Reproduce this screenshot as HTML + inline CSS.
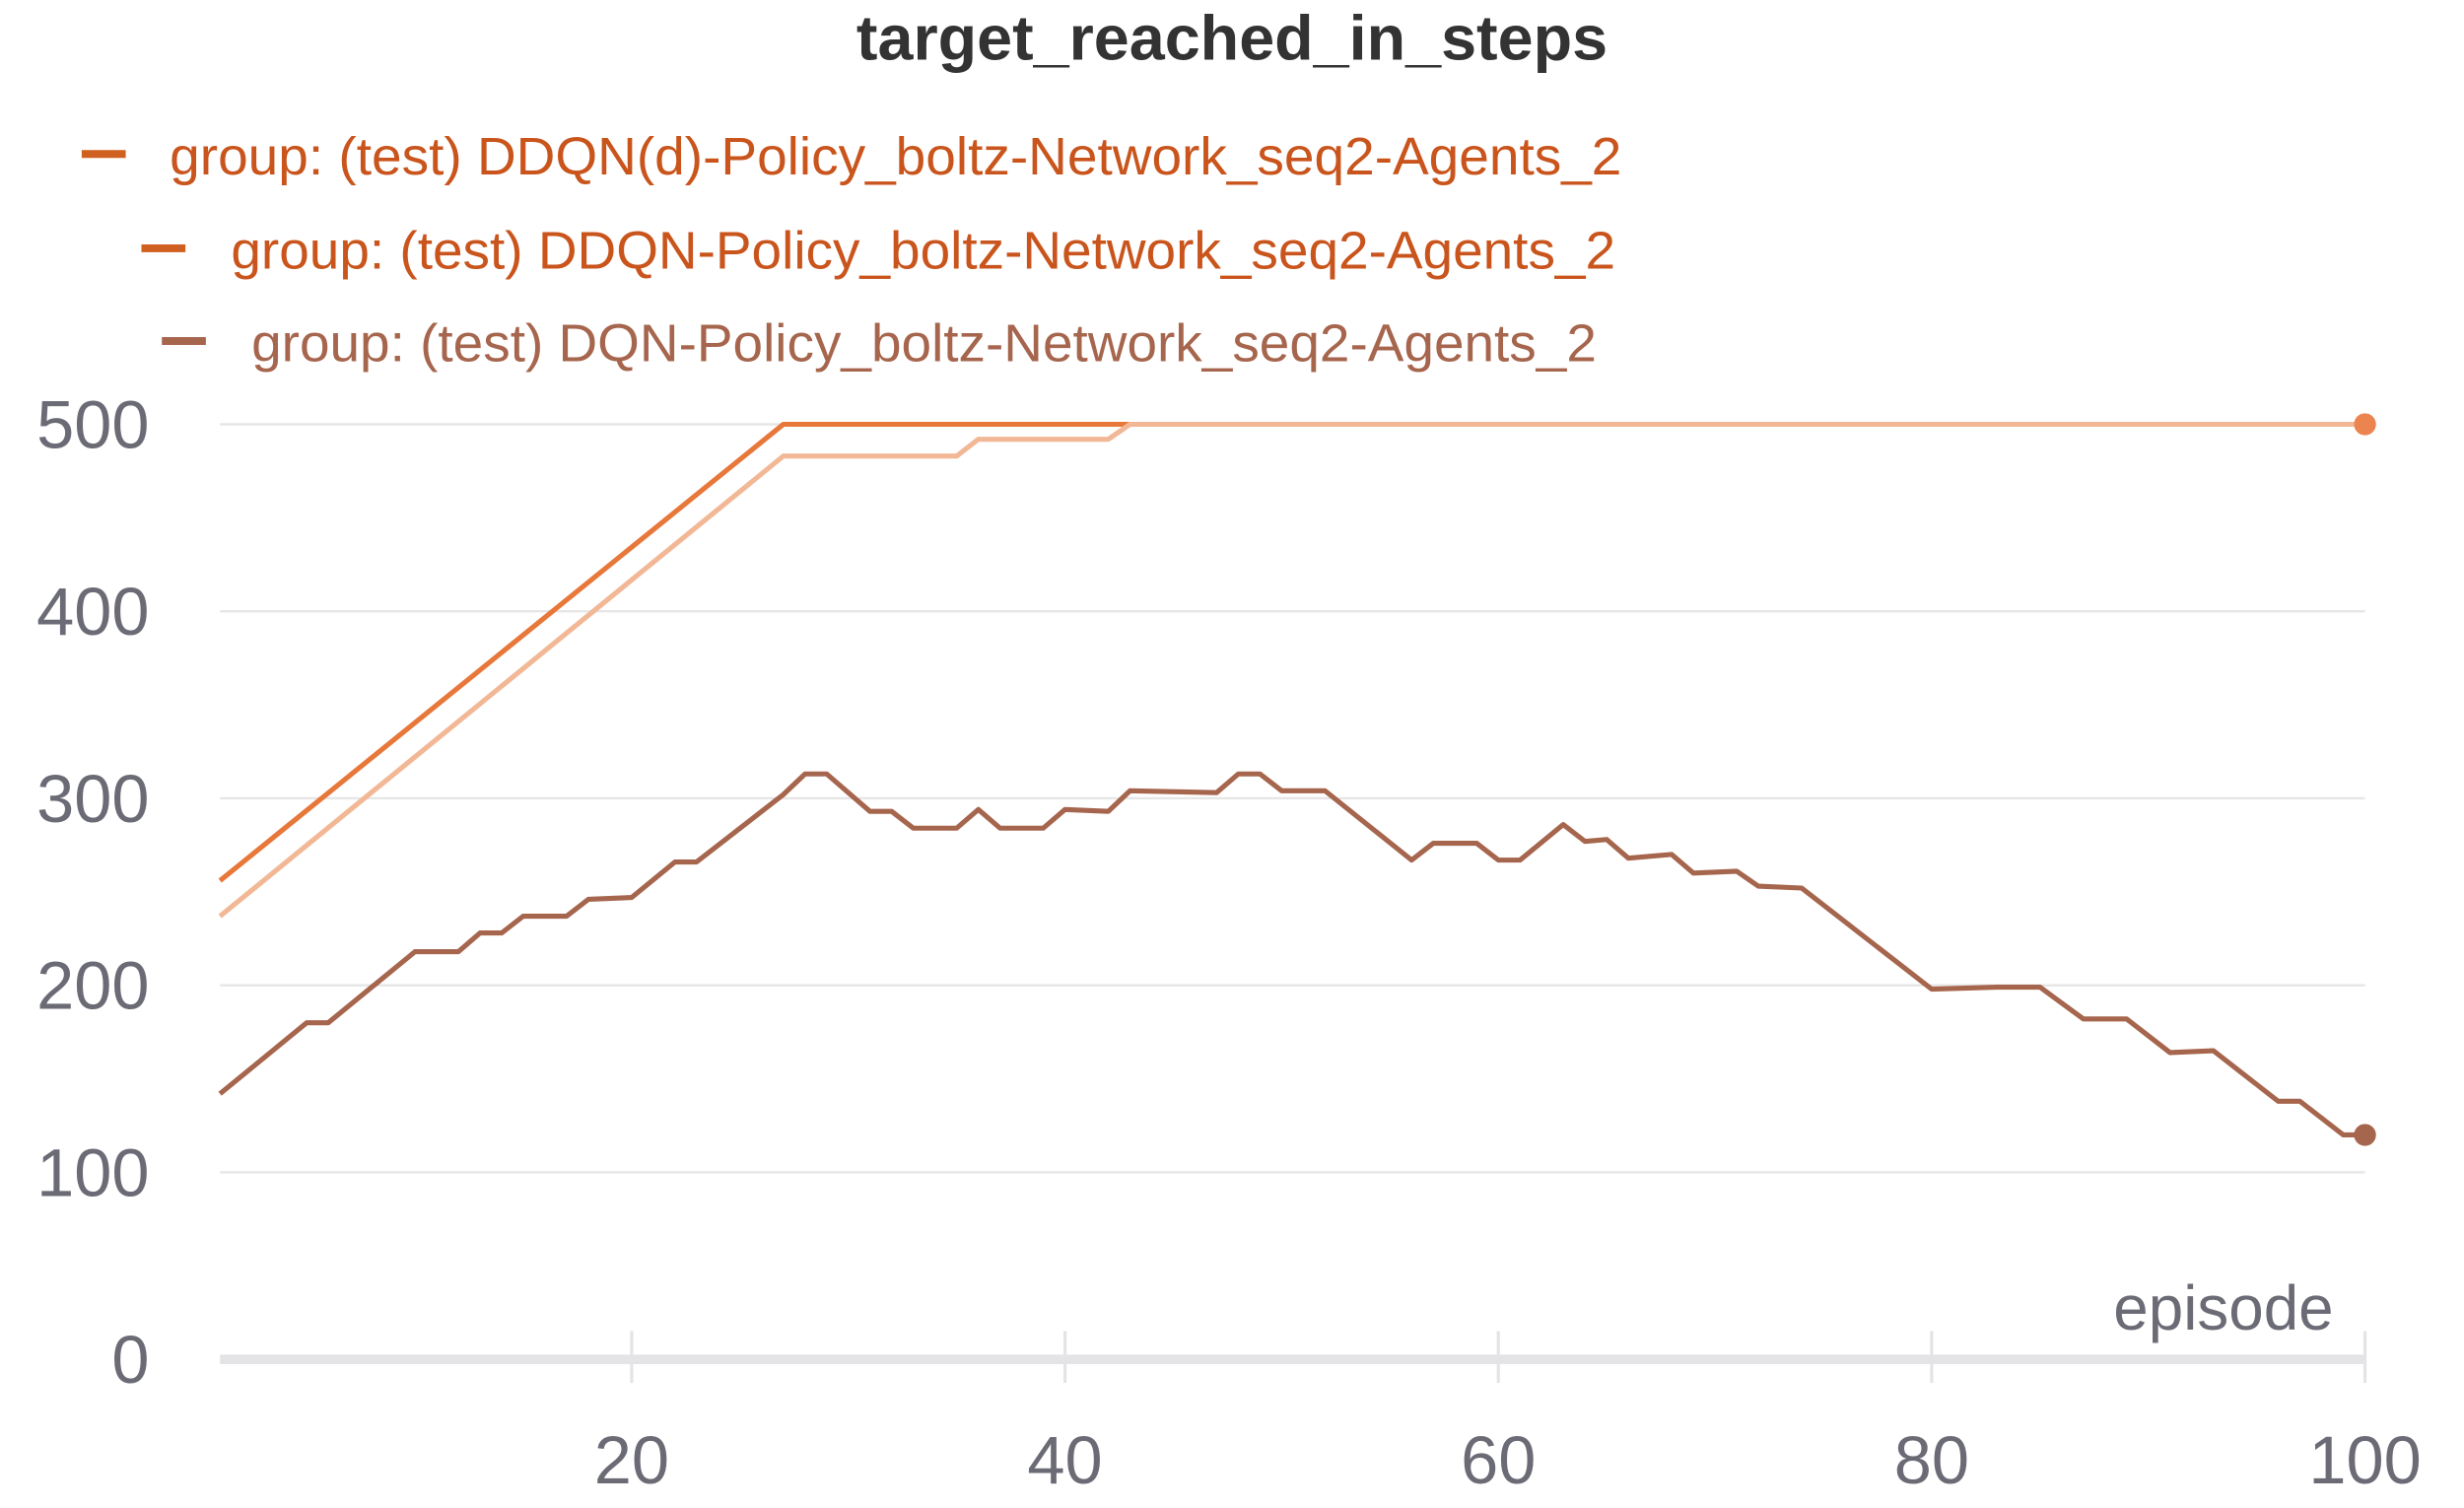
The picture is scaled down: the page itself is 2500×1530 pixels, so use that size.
<!DOCTYPE html>
<html><head><meta charset="utf-8">
<style>
html,body{margin:0;padding:0;background:#fff;}
svg{display:block;font-family:"Liberation Sans",sans-serif;}
</style></head>
<body>
<svg id="chart" width="2500" height="1530" viewBox="0 0 1568 959.6" xmlns="http://www.w3.org/2000/svg">
<text x="784" y="38" text-anchor="middle" font-size="40" font-weight="bold" fill="#333" textLength="478" lengthAdjust="spacingAndGlyphs">target_reached_in_steps</text>
<g>
  <g>
    <line x1="52" y1="98" x2="80" y2="98" stroke="#d0601f" stroke-width="5"/>
    <text x="108" y="111" font-size="34" fill="#c9541c" textLength="924" lengthAdjust="spacingAndGlyphs">group: (test) DDQN(d)-Policy_boltz-Network_seq2-Agents_2</text>
  </g>
  <g>
    <line x1="90" y1="158" x2="118" y2="158" stroke="#d0601f" stroke-width="5"/>
    <text x="147" y="171" font-size="34" fill="#c9541c" textLength="881" lengthAdjust="spacingAndGlyphs">group: (test) DDQN-Policy_boltz-Network_seq2-Agents_2</text>
  </g>
  <g>
    <line x1="103" y1="217" x2="131" y2="217" stroke="#a6654d" stroke-width="5"/>
    <text x="160" y="230" font-size="34" fill="#a6654d" textLength="856" lengthAdjust="spacingAndGlyphs">group: (test) DQN-Policy_boltz-Network_seq2-Agents_2</text>
  </g>
</g>
<g id="grid"></g>
<g id="axes"></g>
<g id="series"></g>
<text x="1485" y="846" text-anchor="end" font-size="40" fill="#6b6b76">episode</text>
</svg>
<script>
const yTicks = [0, 100, 200, 300, 400, 500];
const xTicks = [20, 40, 60, 80, 100];
const ddqnDX = [1, 27, 100];
const ddqnDY = [256, 500, 500];
const ddqnX = [1, 27, 35, 36, 42, 43, 100];
const ddqnY = [237, 483, 483, 492, 492, 500, 500];
const dqnX = [1,5,6,10,12,13,14,15,17,18,20,22,23,27,28,29,31,32,33,35,36,37,39,40,42,43,47,48,49,50,52,56,57,59,60,61,63,64,65,66,68,69,71,72,74,80,83,85,87,89,91,93,96,97,99,100];
const dqnY = [142,180,180,218,218,228,228,237,237,246,247,266,266,302,313,313,293,293,284,284,294,284,284,294,293,304,303,313,313,304,304,267,276,276,267,267,286,277,278,268,270,260,261,253,252,198,199,199,182,182,164,165,138,138,120,120];

const NS = "http://www.w3.org/2000/svg";
const X0 = 140, X1 = 1505, Y0 = 865, Y500 = 270;
function sx(v){ return X0 + (v - 1) * (X1 - X0) / 99; }
function sy(v){ return Y0 - v * (Y0 - Y500) / 500; }
function mk(tag, attrs, parent){
  const e = document.createElementNS(NS, tag);
  for (const k in attrs) e.setAttribute(k, attrs[k]);
  parent.appendChild(e);
  return e;
}
const grid = document.getElementById('grid');
const axes = document.getElementById('axes');
const series = document.getElementById('series');

yTicks.forEach(t => {
  if (t > 0) {
    const g = mk('line', {x1: X0, x2: X1, y1: sy(t), y2: sy(t), stroke: '#e6e6e6', 'stroke-width': 1.5}, grid);
    
    
  }
  const lb = mk('text', {x: 95, y: sy(t) + 15, 'text-anchor': 'end', 'font-size': 43, fill: '#6b6b76'}, axes);
  lb.textContent = t;
  
  
});
const ax = mk('line', {x1: X0, x2: X1, y1: Y0, y2: Y0, stroke: '#e4e4e6', 'stroke-width': 6}, axes);


xTicks.forEach(t => {
  const tk = mk('line', {x1: sx(t), x2: sx(t), y1: Y0 - 18, y2: Y0 + 15, stroke: '#e4e4e6', 'stroke-width': 2}, axes);
  
  
  const lb = mk('text', {x: sx(t), y: 944, 'text-anchor': 'middle', 'font-size': 43, fill: '#6b6b76'}, axes);
  lb.textContent = t;
  
  
});

function drawLine(xs, ys, color, name, dot){
  const pts = xs.map((x, i) => sx(x).toFixed(1) + ',' + sy(ys[i]).toFixed(1)).join(' ');
  const p = mk('polyline', {points: pts, fill: 'none', stroke: color, 'stroke-width': 3.2, 'stroke-linejoin': 'round'}, series);
  
  
  if (dot) {
    const n = xs.length - 1;
    const c = mk('circle', {cx: sx(xs[n]), cy: sy(ys[n]), r: 7, fill: dot}, series);
    
    
  }
}
drawLine(ddqnDX, ddqnDY, '#e8773a', 'line-ddqn-d', null);
drawLine(ddqnX, ddqnY, '#f2b896', 'line-ddqn', '#ec8450');
drawLine(dqnX, dqnY, '#a6654d', 'line-dqn', '#a6654d');
</script>
</body></html>
